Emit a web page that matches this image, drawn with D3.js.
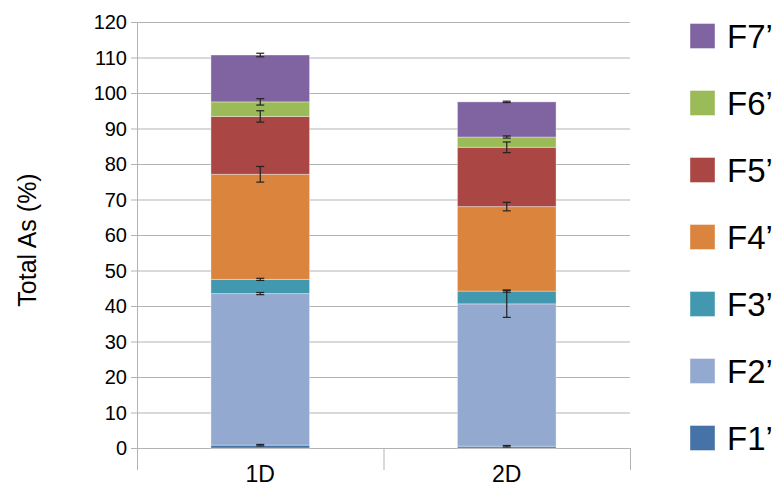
<!DOCTYPE html>
<html><head><meta charset="utf-8">
<script src="https://cdn.jsdelivr.net/npm/d3@7"></script>
<style>body{margin:0;background:#fff}svg{display:block}text{font-family:"Liberation Sans",Arial,sans-serif;fill:#000}</style>
</head><body><svg id="c" width="775" height="490"></svg>
<script>
const categories = ["1D", "2D"];
const seriesNames = ["F1’", "F2’", "F3’", "F4’", "F5’", "F6’", "F7’"];
const F1 = [0.8, 0.5];
const F2 = [42.7, 40.1];
const F3 = [4.0, 3.6];
const F4 = [29.6, 23.8];
const F5 = [16.3, 16.7];
const F6 = [4.1, 2.9];
const F7 = [13.2, 9.9];
const err1 = [0.2, 0.2];
const err2 = [0.3, 3.8];
const err3 = [0.3, 0.3];
const err4 = [2.2, 1.2];
const err5 = [1.6, 1.5];
const err6 = [0.9, 0.3];
const err7 = [0.5, 0.2];
const yTicks = [0,10,20,30,40,50,60,70,80,90,100,110,120];
const colors = ["#4572A7","#93A9CF","#4198AF","#DB843D","#AA4643","#9BBB59","#8064A2"];

const seriesVals = [F1,F2,F3,F4,F5,F6,F7];
const errs = [err1,err2,err3,err4,err5,err6,err7];
const svg = d3.select("#c");
const L = 137, R = 630, T = 22, B = 448;
const x = d3.scaleBand().domain(categories).range([L, R]).paddingInner(0).paddingOuter(0);
const y = d3.scaleLinear().domain([0, 120]).range([B, T]);
const bw = x.bandwidth() * 0.4;

// gridlines
svg.append("g").selectAll("line").data(yTicks).join("line")
  .attr("x1", L - 6).attr("x2", R).attr("y1", d => y(d) + 0.5).attr("y2", d => y(d) + 0.5)
  .attr("stroke", "#b3b3b3").attr("stroke-width", 1);
// y tick labels
svg.append("g").selectAll("text").data(yTicks).join("text")
  .attr("x", L - 10).attr("y", d => y(d)).attr("dy", "0.36em")
  .attr("text-anchor", "end").attr("font-size", 20).text(d => d);
// y axis line
svg.append("line").attr("x1", L + 0.5).attr("x2", L + 0.5).attr("y1", T).attr("y2", 470)
  .attr("stroke", "#b3b3b3");
// x category ticks
const sep = [L, x("2D"), R];
svg.append("g").selectAll("line").data(sep).join("line")
  .attr("x1", d => d + 0.5).attr("x2", d => d + 0.5).attr("y1", B).attr("y2", 470)
  .attr("stroke", "#b3b3b3");

// stacked data
const table = categories.map((c, i) => {
  const o = {cat: c};
  seriesNames.forEach((s, j) => o[s] = seriesVals[j][i]);
  return o;
});
const stack = d3.stack().keys(seriesNames)(table);
const g = svg.append("g");
stack.forEach((layer, j) => {
  g.selectAll(null).data(layer).join("rect")
    .attr("x", d => x(d.data.cat) + (x.bandwidth() - bw) / 2)
    .attr("width", bw)
    .attr("y", d => y(d[1]))
    .attr("height", d => y(d[0]) - y(d[1]))
    .attr("fill", colors[j])
    .attr("stroke", "rgba(255,255,255,0.35)").attr("stroke-width", 1);
});
// error bars
const eg = svg.append("g").attr("stroke", "#222").attr("stroke-width", 1.2);
stack.forEach((layer, j) => {
  layer.forEach((d, i) => {
    const cx = x(d.data.cat) + x.bandwidth() / 2;
    const e = errs[j][i];
    const y1 = y(d[1] + e), y2 = y(d[1] - e);
    eg.append("line").attr("x1", cx).attr("x2", cx).attr("y1", y1).attr("y2", y2);
    eg.append("line").attr("x1", cx - 4).attr("x2", cx + 4).attr("y1", y1).attr("y2", y1);
    eg.append("line").attr("x1", cx - 4).attr("x2", cx + 4).attr("y1", y2).attr("y2", y2);
  });
});
// x labels
svg.append("g").selectAll("text").data(categories).join("text")
  .attr("x", d => x(d) + x.bandwidth() / 2).attr("y", 482)
  .attr("text-anchor", "middle").attr("font-size", 23).text(d => d);
// y title
svg.append("text").attr("transform", "translate(36,240) rotate(-90)")
  .attr("text-anchor", "middle").attr("font-size", 25).text("Total As (%)");
// legend
const lg = svg.append("g");
const order = seriesNames.map((s, j) => j).reverse();
order.forEach((j, k) => {
  const cy = 36 + k * 67;
  lg.append("rect").attr("x", 690).attr("y", cy - 12.5).attr("width", 25).attr("height", 25)
    .attr("fill", colors[j]).attr("stroke", "rgba(255,255,255,0.4)");
  lg.append("text").attr("x", 727).attr("y", cy).attr("dy", "0.36em")
    .attr("font-size", 33).text(seriesNames[j]);
});
</script></body></html>
